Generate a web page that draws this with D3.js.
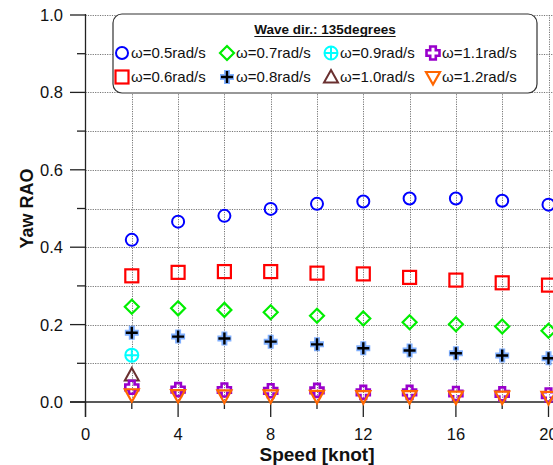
<!DOCTYPE html>
<html><head><meta charset="utf-8">
<script src="https://cdn.jsdelivr.net/npm/d3@7/dist/d3.min.js"></script>
<style>body{margin:0;background:#fff}svg{display:block;font-family:"Liberation Sans",Arial,sans-serif}</style>
</head><body><svg id="c" width="553" height="465"></svg>
<script>
const speeds = [2,4,6,8,10,12,14,16,18,20];
const w05 = [0.419,0.466,0.481,0.499,0.512,0.518,0.526,0.526,0.520,0.510];
const w06 = [0.326,0.335,0.337,0.337,0.333,0.331,0.322,0.315,0.308,0.302];
const w07 = [0.246,0.242,0.238,0.232,0.223,0.216,0.206,0.201,0.195,0.184];
const w08 = [0.179,0.169,0.164,0.156,0.149,0.139,0.133,0.126,0.120,0.113];
const w09 = [0.121];
const w10 = [0.070];
const w11 = [0.038,0.032,0.031,0.029,0.030,0.025,0.025,0.022,0.021,0.018];
const w12 = [0.020,0.018,0.017,0.017,0.016,0.015,0.015,0.014,0.014,0.013];
const seriesNames = ["ω=0.5rad/s","ω=0.6rad/s","ω=0.7rad/s","ω=0.8rad/s","ω=0.9rad/s","ω=1.0rad/s","ω=1.1rad/s","ω=1.2rad/s"];
const xTicks = [0,4,8,12,16,20];
const yTicks = [0.0,0.2,0.4,0.6,0.8,1.0];
const legendTitle = "Wave dir.: 135degrees";

const series = [
  {name:seriesNames[0], vals:w05, type:"circle"},
  {name:seriesNames[1], vals:w06, type:"square"},
  {name:seriesNames[2], vals:w07, type:"diamond"},
  {name:seriesNames[3], vals:w08, type:"plus"},
  {name:seriesNames[4], vals:w09, type:"oplus"},
  {name:seriesNames[5], vals:w10, type:"tri"},
  {name:seriesNames[6], vals:w11, type:"cross"},
  {name:seriesNames[7], vals:w12, type:"tridown"}
];

const svg = d3.select("#c");
const x = d3.scaleLinear().domain([0,20]).range([85.5,548.5]);
const y = d3.scaleLinear().domain([0,1]).range([402,15]);

// grid
const grid = svg.append("g").attr("stroke","#777").attr("stroke-width",1).attr("stroke-dasharray","1.2,1.2");
d3.range(1,11).map(i=>i/10).forEach(v=>{
  grid.append("line").attr("x1",x(0)).attr("x2",553).attr("y1",Math.round(y(v))+0.5).attr("y2",Math.round(y(v))+0.5);
});
d3.range(2,24,2).forEach(s=>{
  grid.append("line").attr("x1",Math.round(x(s))+0.5).attr("x2",Math.round(x(s))+0.5).attr("y1",y(1)).attr("y2",y(0));
});

// axes
const ax = svg.append("g").attr("stroke","#222").attr("stroke-width",1.3);
ax.append("line").attr("x1",x(0)).attr("x2",x(0)).attr("y1",y(1)-1).attr("y2",417);
ax.append("line").attr("x1",70).attr("x2",553).attr("y1",y(0)).attr("y2",y(0));
d3.range(0,11).forEach(i=>{
  const v=i/10, major = i%2===0;
  ax.append("line").attr("x1",major?70:77).attr("x2",x(0)).attr("y1",y(v)).attr("y2",y(v));
});
d3.range(0,24,2).forEach(s=>{
  const major = s%4===0;
  ax.append("line").attr("x1",x(s)).attr("x2",x(s)).attr("y1",y(0)).attr("y2",major?417:409);
});
svg.append("g").selectAll("text").data(yTicks).join("text")
  .attr("x",63).attr("y",d=>y(d)).attr("dy","0.36em").attr("text-anchor","end")
  .attr("font-size",16.5).attr("fill","#111").text(d=>d3.format(".1f")(d));
svg.append("g").selectAll("text").data(xTicks).join("text")
  .attr("x",d=>x(d)).attr("y",440).attr("text-anchor","middle")
  .attr("font-size",16.5).attr("fill","#111").text(d=>d);
svg.append("text").attr("x",317).attr("y",461).attr("text-anchor","middle")
  .attr("font-size",19).attr("font-weight","bold").attr("fill","#111").text("Speed [knot]");
svg.append("text").attr("transform","translate(33,208.5) rotate(-90)").attr("text-anchor","middle")
  .attr("font-size",18).attr("font-weight","bold").attr("fill","#111").text("Yaw RAO");

function marker(g, type, cx, cy){
  const m = g.append("g").attr("transform",`translate(${cx},${cy})`);
  switch(type){
    case "circle":
      m.append("circle").attr("r",6).attr("fill","none").attr("stroke","#0000ff").attr("stroke-width",2); break;
    case "square":
      m.append("rect").attr("x",-6.5).attr("y",-6.5).attr("width",13).attr("height",13).attr("fill","none").attr("stroke","#ff0000").attr("stroke-width",2.2); break;
    case "diamond":
      m.append("path").attr("d","M0,-7L7,0L0,7L-7,0Z").attr("fill","none").attr("stroke","#00ee00").attr("stroke-width",2.2); break;
    case "plus":
      m.append("path").attr("d","M-7,0H7M0,-7V7").attr("stroke","#80b0ff").attr("stroke-width",6);
      m.append("path").attr("d","M-6,0H6M0,-6V6").attr("stroke","#000").attr("stroke-width",2.4); break;
    case "oplus":
      m.append("circle").attr("r",6.5).attr("fill","none").attr("stroke","#00ffff").attr("stroke-width",2);
      m.append("path").attr("d","M-6.5,0H6.5M0,-6.5V6.5").attr("stroke","#00ffff").attr("stroke-width",2); break;
    case "tri":
      m.append("path").attr("d","M0,-7L7,5.5L-7,5.5Z").attr("fill","none").attr("stroke","#6a3030").attr("stroke-width",2); break;
    case "cross": {
      const a=2.8,e=6.5;
      m.append("path").attr("d",`M${-a},${-e}H${a}V${-a}H${e}V${a}H${a}V${e}H${-a}V${a}H${-e}V${-a}H${-a}Z`)
        .attr("fill","none").attr("stroke","#9900cc").attr("stroke-width",2.6); break; }
    case "tridown":
      m.append("path").attr("d","M-7,-5L7,-5L0,7.5Z").attr("fill","none").attr("stroke","#ff6600").attr("stroke-width",2.2); break;
  }
}

const pts = svg.append("g");
series.forEach(s=>{
  s.vals.forEach((v,i)=> marker(pts, s.type, x(speeds[i]), y(v)));
});

// legend
const lg = svg.append("g");
lg.append("rect").attr("x",113).attr("y",14).attr("width",424).attr("height",79).attr("rx",9)
  .attr("fill","#fff").attr("stroke","#333").attr("stroke-width",1.2);
const tt = lg.append("text").attr("x",325).attr("y",34).attr("text-anchor","middle")
  .attr("font-size",13.5).attr("font-weight","bold").attr("fill","#111").text(legendTitle);
const bb = tt.node().getBBox();
lg.append("line").attr("x1",bb.x).attr("x2",bb.x+bb.width).attr("y1",36.5).attr("y2",36.5).attr("stroke","#111").attr("stroke-width",1.2);
const colMarkX = [122,227,331,433];
series.forEach((s,i)=>{
  const col = Math.floor(i/2), row = i%2;
  const cy = row===0?53:77;
  marker(lg, s.type, colMarkX[col], cy);
  lg.append("text").attr("x",colMarkX[col]+9).attr("y",cy).attr("dy","0.36em")
    .attr("font-size",15).attr("fill","#111").text(s.name);
});
</script></body></html>
